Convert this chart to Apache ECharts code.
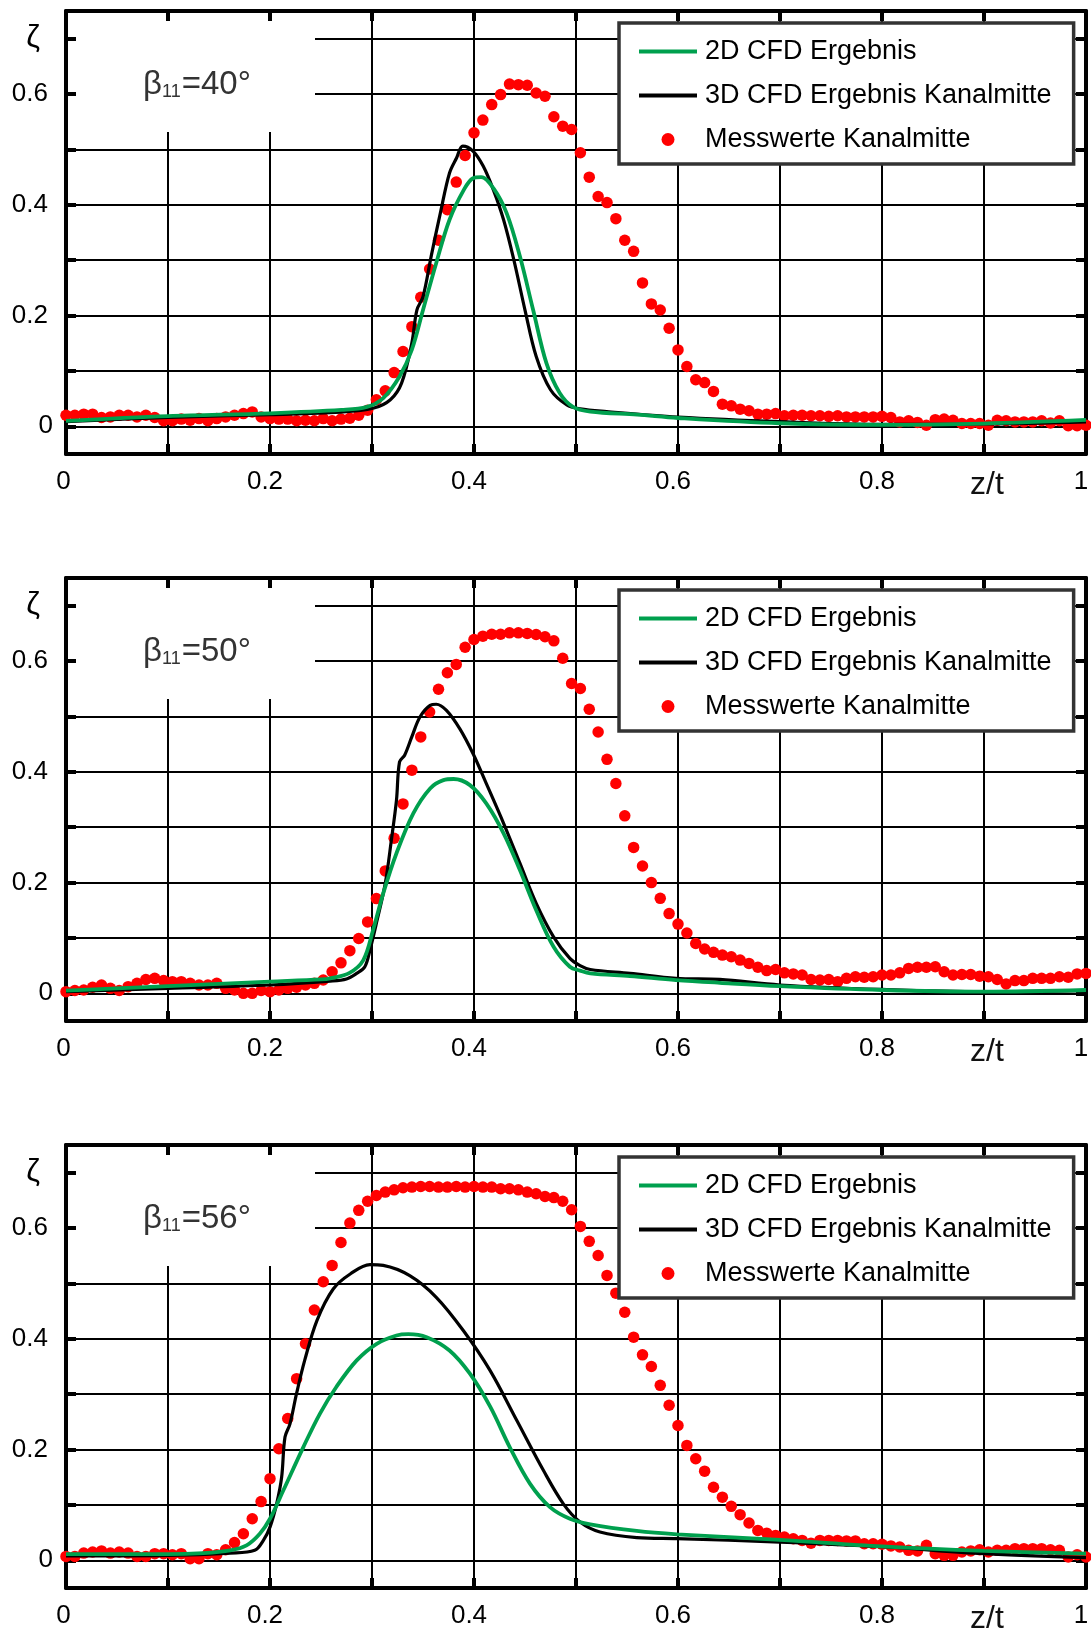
<!DOCTYPE html>
<html><head><meta charset="utf-8">
<script src="https://cdn.jsdelivr.net/npm/echarts@6/dist/echarts.min.js"></script>
<style>html,body{margin:0;padding:0;background:#fff}#c{width:1091px;height:1629px}</style>
</head><body><div id="c"></div>
<script>
// ---------- data ----------
const SER_2D = '2D CFD Ergebnis';
const SER_3D = '3D CFD Ergebnis Kanalmitte';
const SER_M = 'Messwerte Kanalmitte';
const panelAngles = ['40°', '50°', '56°'];

const xTickValues = [0, 0.2, 0.4, 0.6, 0.8, 0.9, 1];
const xTickTexts = ['0', '0.2', '0.4', '0.6', '0.8', 'z/t', '1'];
const yTickValues = [0, 0.2, 0.4, 0.6, 0.7];
const yTickTexts = ['0', '0.2', '0.4', '0.6', 'ζ'];

// measurement positions z/t
const measX = [0, 0.0087, 0.0174, 0.0261, 0.0348, 0.0435, 0.0522, 0.0609, 0.0696, 0.0783,
  0.0870, 0.0957, 0.1043, 0.1130, 0.1217, 0.1304, 0.1391, 0.1478, 0.1565, 0.1652,
  0.1739, 0.1826, 0.1913, 0.2000, 0.2087, 0.2174, 0.2261, 0.2348, 0.2435, 0.2522,
  0.2609, 0.2696, 0.2783, 0.2870, 0.2957, 0.3043, 0.3130, 0.3217, 0.3304, 0.3391,
  0.3478, 0.3565, 0.3652, 0.3739, 0.3826, 0.3913, 0.4000, 0.4087, 0.4174, 0.4261,
  0.4348, 0.4435, 0.4522, 0.4609, 0.4696, 0.4783, 0.4870, 0.4957, 0.5043, 0.5130,
  0.5217, 0.5304, 0.5391, 0.5478, 0.5565, 0.5652, 0.5739, 0.5826, 0.5913, 0.6000,
  0.6087, 0.6174, 0.6261, 0.6348, 0.6435, 0.6522, 0.6609, 0.6696, 0.6783, 0.6870,
  0.6957, 0.7043, 0.7130, 0.7217, 0.7304, 0.7391, 0.7478, 0.7565, 0.7652, 0.7739,
  0.7826, 0.7913, 0.8000, 0.8087, 0.8174, 0.8261, 0.8348, 0.8435, 0.8522, 0.8609,
  0.8696, 0.8783, 0.8870, 0.8957, 0.9043, 0.9130, 0.9217, 0.9304, 0.9391, 0.9478,
  0.9565, 0.9652, 0.9739, 0.9826, 0.9913, 1.0000];

// beta11 = 40°
const p1Meas = [0.020, 0.020, 0.022, 0.022, 0.016, 0.017, 0.020, 0.020, 0.017, 0.020,
  0.016, 0.010, 0.010, 0.013, 0.011, 0.014, 0.010, 0.014, 0.017, 0.020,
  0.023, 0.026, 0.017, 0.014, 0.013, 0.013, 0.010, 0.011, 0.010, 0.014,
  0.010, 0.013, 0.0145, 0.020, 0.029, 0.048, 0.064, 0.097, 0.135, 0.180,
  0.233, 0.284, 0.336, 0.391, 0.441, 0.489, 0.530, 0.553, 0.581, 0.599,
  0.618, 0.617, 0.616, 0.602, 0.596, 0.559, 0.542, 0.536, 0.494, 0.450,
  0.415, 0.404, 0.375, 0.336, 0.316, 0.259, 0.221, 0.210, 0.177, 0.138,
  0.108, 0.084, 0.079, 0.063, 0.040, 0.037, 0.031, 0.028, 0.022, 0.022,
  0.023, 0.019, 0.020, 0.020, 0.019, 0.019, 0.018, 0.019, 0.017, 0.017,
  0.017, 0.017, 0.018, 0.016, 0.008, 0.010, 0.007, 0.002, 0.012, 0.013,
  0.011, 0.005, 0.005, 0.005, 0.002, 0.011, 0.010, 0.008, 0.008, 0.008,
  0.010, 0.006, 0.010, 0.001, 0.001, 0.002];
const p1GreenX = [0, 0.1, 0.2, 0.27, 0.295, 0.311, 0.327, 0.339, 0.350, 0.363, 0.376, 0.390, 0.399, 0.407,
  0.419, 0.432, 0.445, 0.458, 0.471, 0.484, 0.497, 0.514, 0.56, 0.6, 0.7, 0.8, 0.9, 1.0];
const p1GreenY = [0.010, 0.0185, 0.0235, 0.0295, 0.035, 0.051, 0.090, 0.138, 0.210, 0.295, 0.373, 0.427, 0.448, 0.450,
  0.430, 0.385, 0.307, 0.210, 0.114, 0.060, 0.035, 0.0265, 0.021, 0.015, 0.0055, 0.0025, 0.005, 0.0115];
const p1BlackX = [0, 0.1, 0.2, 0.269, 0.301, 0.318, 0.329, 0.339, 0.344, 0.350, 0.358, 0.367, 0.376, 0.383, 0.389,
  0.399, 0.409, 0.419, 0.429, 0.439, 0.450, 0.461, 0.475, 0.491, 0.504, 0.53, 0.6, 0.7, 0.8, 0.9, 1.0];
const p1BlackY = [0.0085, 0.016, 0.021, 0.0255, 0.0325, 0.048, 0.078, 0.150, 0.210, 0.234, 0.307, 0.385, 0.4575, 0.485, 0.506,
  0.497, 0.470, 0.427, 0.373, 0.301, 0.210, 0.126, 0.066, 0.0385, 0.0315, 0.0265, 0.0165, 0.0083, 0.0036, 0.0042, 0.008];

// beta11 = 50°
const p2Meas = [0.003, 0.005, 0.006, 0.011, 0.015, 0.009, 0.005, 0.012, 0.018, 0.025,
  0.027, 0.023, 0.021, 0.021, 0.018, 0.015, 0.015, 0.018, 0.009, 0.006,
  0.000, 0.000, 0.005, 0.003, 0.006, 0.009, 0.011, 0.015, 0.018, 0.024,
  0.039, 0.055, 0.077, 0.099, 0.129, 0.171, 0.221, 0.280, 0.342, 0.403,
  0.463, 0.508, 0.549, 0.579, 0.594, 0.625, 0.639, 0.645, 0.6485, 0.6485,
  0.651, 0.651, 0.650, 0.648, 0.644, 0.6365, 0.605, 0.5595, 0.5505, 0.513,
  0.472, 0.4225, 0.379, 0.3205, 0.2635, 0.230, 0.200, 0.1715, 0.144, 0.125,
  0.109, 0.090, 0.080, 0.074, 0.069, 0.066, 0.060, 0.054, 0.047, 0.041,
  0.043, 0.037, 0.035, 0.033, 0.025, 0.024, 0.025, 0.021, 0.027, 0.030,
  0.029, 0.030, 0.033, 0.033, 0.037, 0.045, 0.047, 0.047, 0.048, 0.039,
  0.033, 0.034, 0.034, 0.031, 0.030, 0.025, 0.017, 0.023, 0.023, 0.027,
  0.027, 0.027, 0.030, 0.029, 0.035, 0.036];
const p2GreenX = [0, 0.1, 0.2, 0.25, 0.259, 0.278, 0.2915, 0.301, 0.311, 0.324, 0.3405, 0.357, 0.370, 0.380,
  0.396, 0.412, 0.429, 0.445, 0.461, 0.478, 0.494, 0.504, 0.514, 0.553, 0.598, 0.641, 0.7, 0.8, 0.9, 1.0];
const p2GreenY = [0.005, 0.013, 0.021, 0.025, 0.027, 0.037, 0.060, 0.114, 0.1805, 0.253, 0.325, 0.370, 0.385, 0.387,
  0.376, 0.343, 0.289, 0.2225, 0.150, 0.084, 0.048, 0.041, 0.036, 0.031, 0.024, 0.019, 0.013, 0.006, 0.003, 0.006];
const p2BlackX = [0, 0.1, 0.2, 0.259, 0.275, 0.285, 0.293, 0.298, 0.305, 0.313, 0.319, 0.324, 0.327, 0.332, 0.339,
  0.347, 0.357, 0.363, 0.373, 0.386, 0.399, 0.412, 0.429, 0.445, 0.461, 0.478, 0.494, 0.504, 0.514, 0.553,
  0.598, 0.641, 0.7, 0.8, 0.9, 1.0];
const p2BlackY = [0.003, 0.009, 0.015, 0.022, 0.026, 0.036, 0.048, 0.078, 0.132, 0.1985, 0.277, 0.349, 0.418, 0.430, 0.463,
  0.499, 0.520, 0.522, 0.511, 0.478, 0.433, 0.379, 0.307, 0.235, 0.1625, 0.102, 0.063, 0.050, 0.043, 0.036,
  0.027, 0.025, 0.015, 0.007, 0.003, 0.005];

// beta11 = 56°
const p3Meas = [0.007, 0.007, 0.013, 0.015, 0.017, 0.013, 0.015, 0.013, 0.007, 0.007,
  0.012, 0.012, 0.010, 0.012, 0.003, 0.003, 0.012, 0.010, 0.019, 0.032,
  0.048, 0.075, 0.106, 0.1475, 0.2015, 0.256, 0.328, 0.391, 0.452, 0.503,
  0.5325, 0.574, 0.609, 0.632, 0.6485, 0.659, 0.665, 0.669, 0.6727, 0.674,
  0.675, 0.675, 0.674, 0.674, 0.675, 0.674, 0.675, 0.674, 0.674, 0.671,
  0.671, 0.669, 0.665, 0.662, 0.657, 0.655, 0.6485, 0.633, 0.603, 0.576,
  0.5505, 0.5145, 0.4825, 0.448, 0.403, 0.371, 0.350, 0.316, 0.280, 0.2435,
  0.2075, 0.1835, 0.161, 0.132, 0.114, 0.0975, 0.0824, 0.0673, 0.054, 0.049,
  0.045, 0.042, 0.039, 0.036, 0.031, 0.036, 0.036, 0.036, 0.035, 0.035,
  0.030, 0.030, 0.029, 0.026, 0.024, 0.018, 0.017, 0.027, 0.012, 0.009,
  0.009, 0.015, 0.017, 0.019, 0.015, 0.018, 0.018, 0.021, 0.021, 0.021,
  0.021, 0.019, 0.018, 0.006, 0.010, 0.006];
const p3GreenX = [0, 0.1, 0.1346, 0.161, 0.177, 0.190, 0.200, 0.213, 0.2327, 0.249, 0.265, 0.285, 0.3046, 0.324,
  0.3356, 0.3536, 0.376, 0.396, 0.416, 0.435, 0.455, 0.4745, 0.494, 0.514, 0.5595, 0.599, 0.700, 0.800, 0.900, 1.0];
const p3GreenY = [0.011, 0.011, 0.013, 0.018, 0.027, 0.048, 0.075, 0.126, 0.2045, 0.265, 0.313, 0.361, 0.391, 0.406,
  0.4085, 0.403, 0.379, 0.337, 0.277, 0.2045, 0.138, 0.096, 0.075, 0.065, 0.053, 0.047, 0.037, 0.025, 0.017, 0.012];
const p3BlackX = [0, 0.1, 0.161, 0.185, 0.1935, 0.200, 0.2065, 0.2114, 0.2147, 0.2196, 0.226, 0.234, 0.246, 0.262,
  0.279, 0.298, 0.311, 0.337, 0.363, 0.3895, 0.4157, 0.442, 0.468, 0.4876, 0.504, 0.5235, 0.5595, 0.599,
  0.700, 0.800, 0.900, 1.0];
const p3BlackY = [0.008, 0.009, 0.013, 0.018, 0.036, 0.060, 0.102, 0.150, 0.2225, 0.2465, 0.301, 0.361, 0.433, 0.490,
  0.5175, 0.534, 0.5325, 0.514, 0.475, 0.415, 0.343, 0.2525, 0.1625, 0.102, 0.069, 0.051, 0.041, 0.039,
  0.033, 0.0245, 0.012, 0.005];

const panels = [
  { meas: p1Meas, gx: p1GreenX, gy: p1GreenY, bx: p1BlackX, by: p1BlackY },
  { meas: p2Meas, gx: p2GreenX, gy: p2GreenY, bx: p2BlackX, by: p2BlackY },
  { meas: p3Meas, gx: p3GreenX, gy: p3GreenY, bx: p3BlackX, by: p3BlackY }
];

// ---------- layout / style ----------
const FONT = "'Liberation Sans', Arial, Helvetica, sans-serif";
const GRID_LEFT = 66, GRID_W = 1020, GRID_H = 443;
const GRID_TOPS = [11, 578, 1145];
const GREEN = '#00a04e', RED = '#ff0000', BLACK = '#000000';

function near(a, b) { return Math.abs(a - b) < 1e-6; }
function xFmt(v) {
  const i = xTickValues.findIndex(t => near(t, v));
  if (i < 0) return '';
  const t = xTickTexts[i];
  if (t === 'z/t') return '{zt|' + t + '}';
  if (t === '0') return '{z|0}';
  return '{d|' + t + '}';
}
function yFmt(v) {
  const i = yTickValues.findIndex(t => near(t, v));
  if (i < 0) return '';
  const t = yTickTexts[i];
  if (t === 'ζ') return '{zeta|ζ}';
  if (t === '0') return '{z|0}';
  return '{d|' + t + '}';
}

const grids = [], xAxes = [], yAxes = [], series = [], legends = [], graphics = [];
const tickLine = { show: true, inside: true, length: 10, lineStyle: { color: '#000', width: 4 } };
const borderLine = { show: true, onZero: false, lineStyle: { color: '#000', width: 4 } };
const gridLine = { show: true, lineStyle: { color: '#000', width: 2 } };

panels.forEach((p, i) => {
  const top = GRID_TOPS[i];
  grids.push({ left: GRID_LEFT, top: top, width: GRID_W, height: GRID_H, containLabel: false, outerBoundsMode: 'none' });
  const xBase = { type: 'value', gridIndex: i, min: 0, max: 1, interval: 0.1 };
  const yBase = { type: 'value', gridIndex: i, min: -0.05, max: 0.75, splitNumber: 8, minInterval: 0.1, maxInterval: 0.1 };
  // bottom x axis: vertical grid lines + labels
  xAxes.push(Object.assign({}, xBase, {
    position: 'bottom', z: 0,
    axisLine: borderLine, axisTick: tickLine, splitLine: gridLine,
    axisLabel: {
      show: true, formatter: xFmt, margin: 15, color: '#000', fontFamily: FONT, showMinLabel: true, showMaxLabel: true,
      rich: {
        d: { fontSize: 26, fontFamily: FONT, color: '#000', padding: [0, 10, 0, 0] },
        z: { fontSize: 26, fontFamily: FONT, color: '#000', padding: [0, 5, 0, 0] },
        zt: { fontSize: 32, fontFamily: FONT, color: '#111', padding: [0, 0, 0, 6] }
      }
    }
  }));
  // top x axis: border + ticks above the white box
  xAxes.push(Object.assign({}, xBase, {
    position: 'top', z: 1.5,
    axisLine: borderLine, axisTick: tickLine, splitLine: { show: false }, axisLabel: { show: false }
  }));
  // left y axis: labels + ticks above the white box
  yAxes.push(Object.assign({}, yBase, {
    position: 'left', z: 1.5,
    axisLine: borderLine, axisTick: tickLine, splitLine: { show: false },
    axisLabel: {
      show: true, formatter: yFmt, margin: 13, color: '#000', fontFamily: FONT, showMinLabel: true, showMaxLabel: true,
      rich: {
        d: { fontSize: 26, fontFamily: FONT, color: '#000', padding: [0, 5, 0, 0] },
        z: { fontSize: 26, fontFamily: FONT, color: '#000' },
        zeta: { fontSize: 31, fontFamily: FONT, color: '#000', padding: [0, 13, 0, 0] }
      }
    }
  }));
  // right y axis: horizontal grid lines
  yAxes.push(Object.assign({}, yBase, {
    position: 'right', z: 0,
    axisLine: borderLine, axisTick: tickLine, splitLine: gridLine, axisLabel: { show: false }
  }));

  const xi = 2 * i, yi = 2 * i;
  series.push({
    name: SER_M, type: 'scatter', xAxisIndex: xi, yAxisIndex: yi, z: 2,
    symbol: 'circle', symbolSize: 11.5, itemStyle: { color: RED, opacity: 1 },
    data: measX.map((x, k) => [x, p.meas[k]]), animation: false
  });
  series.push({
    name: SER_3D, type: 'line', xAxisIndex: xi, yAxisIndex: yi, z: 3,
    symbol: 'none', smooth: 0.35,
    lineStyle: { color: BLACK, width: 3.2 }, itemStyle: { color: BLACK },
    data: p.bx.map((x, k) => [x, p.by[k]]), animation: false
  });
  series.push({
    name: SER_2D, type: 'line', xAxisIndex: xi, yAxisIndex: yi, z: 3.5,
    symbol: 'none', smooth: 0.35,
    lineStyle: { color: GREEN, width: 3.8 }, itemStyle: { color: GREEN },
    data: p.gx.map((x, k) => [x, p.gy[k]]), animation: false
  });

  const lineIcon = 'path://M0 0H58V4H0Z';
  legends.push({
    orient: 'vertical', left: 619, top: top + 12, z: 4,
    padding: [15, 22, 11, 20], itemWidth: 58, itemHeight: 13, itemGap: 17, symbolKeepAspect: true,
    backgroundColor: '#fff', borderColor: '#333', borderWidth: 3.5, borderRadius: 0,
    selectedMode: false,
    textStyle: { fontSize: 27, fontFamily: FONT, color: '#000', padding: [6, 0, 0, 3] },
    data: [
      { name: SER_2D, icon: lineIcon, itemStyle: { color: GREEN, borderWidth: 0 } },
      { name: SER_3D, icon: lineIcon, itemStyle: { color: BLACK, borderWidth: 0 } },
      { name: SER_M, icon: 'circle', itemStyle: { color: RED, opacity: 1, borderWidth: 0 } }
    ]
  });

  graphics.push({
    type: 'rect', z: 1, silent: true,
    shape: { x: GRID_LEFT, y: top, width: 249, height: 121 },
    style: { fill: '#fff' }
  });
  graphics.push({
    type: 'text', z: 3, silent: true, x: 143, y: top + 74,
    style: {
      text: '{b|β}{s|11}{n|=' + panelAngles[i] + '}',
      verticalAlign: 'middle', align: 'left',
      rich: {
        b: { fontSize: 33, fontFamily: FONT, fill: '#333' },
        s: { fontSize: 18, fontFamily: FONT, fill: '#333', verticalAlign: 'bottom', padding: [0, 1, 0, 0] },
        n: { fontSize: 33, fontFamily: FONT, fill: '#333' }
      }
    }
  });
});

const chart = echarts.init(document.getElementById('c'), null, { renderer: 'canvas' });
chart.setOption({
  animation: false,
  backgroundColor: '#fff',
  grid: grids, xAxis: xAxes, yAxis: yAxes,
  legend: legends, series: series, graphic: graphics
});
</script></body></html>
